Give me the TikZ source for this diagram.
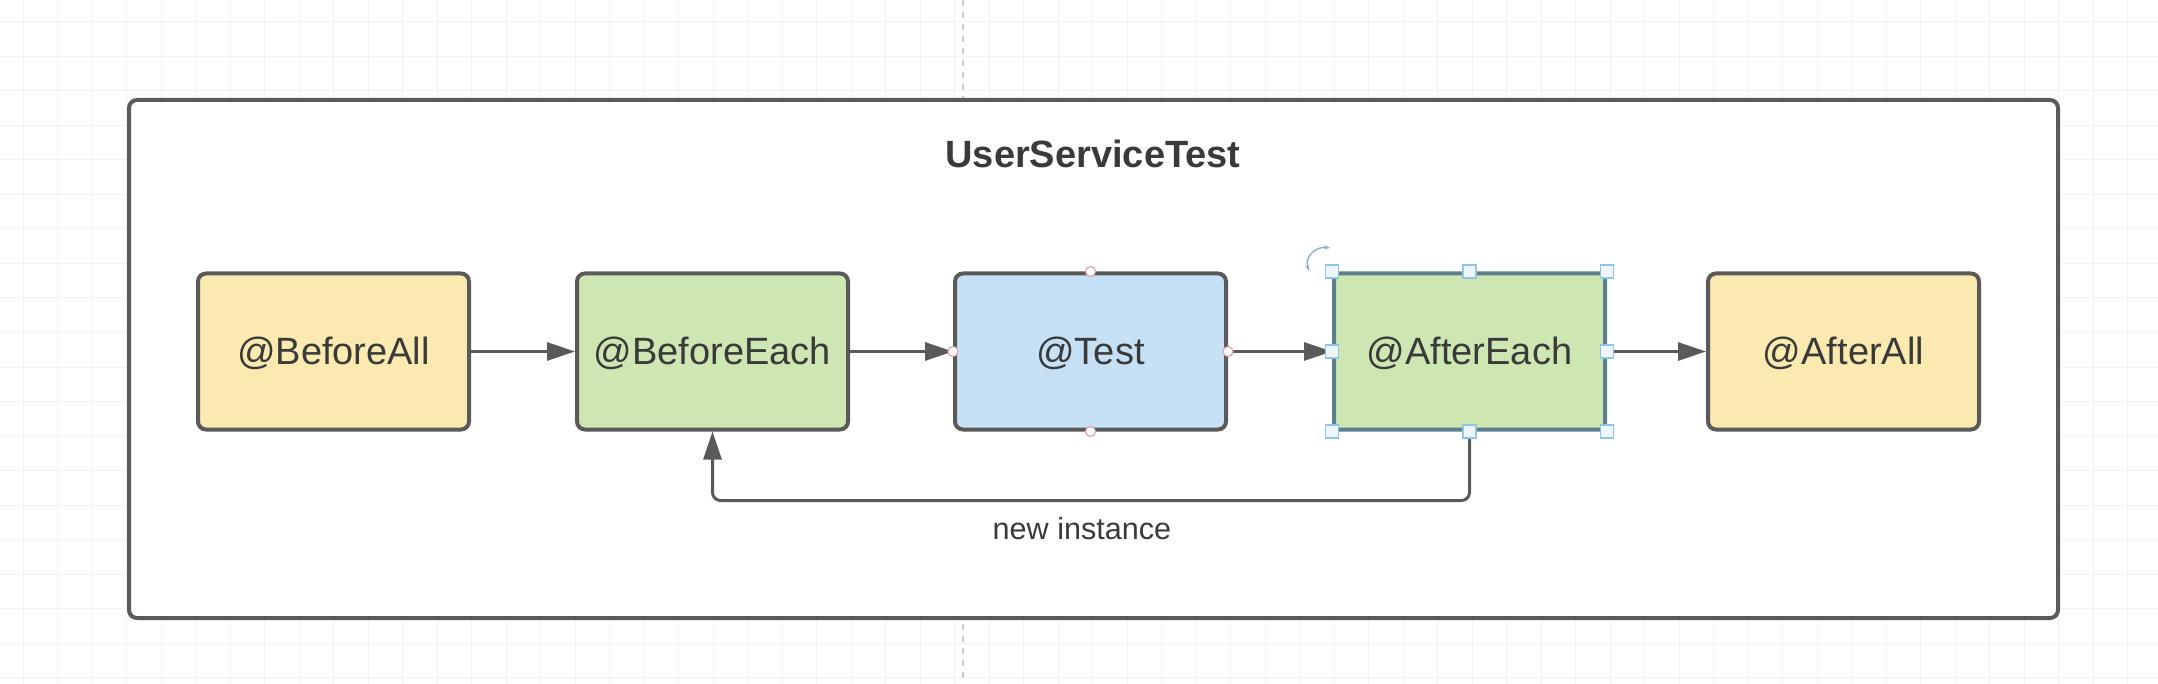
\documentclass[tikz,border=0pt]{standalone}
\usepackage{fontspec}
\setmainfont{Liberation Sans}
\usetikzlibrary{arrows.meta}
\definecolor{boxyellow}{HTML}{FAEAB0}
\definecolor{boxgreen}{HTML}{CDE6B2}
\definecolor{boxblue}{HTML}{C6E1F5}
\definecolor{edgegray}{HTML}{5A5A5A}
\definecolor{textgray}{HTML}{3A3A3A}
\definecolor{gridgray}{HTML}{F2F2F2}
\definecolor{selblue}{HTML}{5B7F8C}
\definecolor{handleblue}{HTML}{8EC5EA}
\definecolor{handlefill}{HTML}{EEF6FC}
\definecolor{connred}{HTML}{E4A3A3}
\tikzset{
  stepbox/.style={draw=edgegray, line width=2pt, rounded corners=4pt,
    minimum width=135.5pt, minimum height=78pt, inner sep=0pt,
    text height=16pt, text depth=3pt,
    text=textgray, font=\fontsize{19}{22}\selectfont},
  framebox/.style={draw=edgegray, line width=2pt, rounded corners=4pt, fill=white,
    minimum width=964.5pt, minimum height=259pt, inner sep=0pt},
  arr/.style={draw=edgegray, line width=1.5pt, -{Triangle[length=14pt,width=9pt]}},
  handle/.style={draw=handleblue, fill=handlefill, line width=0.6pt,
    minimum size=6.5pt, inner sep=0pt},
  connpt/.style={circle, draw=connred, fill=white, line width=0.6pt,
    minimum size=5pt, inner sep=0pt},
  gridline/.style={draw=gridgray, line width=0.5pt},
  pageline/.style={draw=black!20, line width=0.8pt, dash pattern=on 3pt off 3pt}
}
\begin{document}
\begin{tikzpicture}[x=0.5pt,y=-0.5pt]
\useasboundingbox (0,0) rectangle (2158,684);
\fill[white] (0,0) rectangle (2158,684);
% background grid
\foreach \i in {0,...,62} {\draw[gridline] ({23+34.5*\i},0) -- ({23+34.5*\i},684);}
\foreach \j in {0,...,19} {\draw[gridline] (0,{22+34.5*\j}) -- (2158,{22+34.5*\j});}
\draw[pageline] (963,0) -- (963,684);
% frame
\node[framebox] (frame) at (1093.5,359) {};
\node[font=\bfseries\fontsize{19}{22}\selectfont, text=textgray] (title) at (1093,154) {UserServiceTest};
% steps
\node[stepbox, fill=boxyellow] (ba) at (333.5,351.5) {@BeforeAll};
\node[stepbox, fill=boxgreen]  (be) at (712.5,351.5) {@BeforeEach};
\node[stepbox, fill=boxblue]   (te) at (1090.5,351.5) {@Test};
\node[stepbox, fill=boxgreen, draw=selblue, rounded corners=1pt] (ae) at (1469.5,351.5) {@AfterEach};
\node[stepbox, fill=boxyellow] (aa) at (1843.5,351.5) {@AfterAll};
% connectors
\draw[arr] (ba.east) -- (be.west);
\draw[arr] (be.east) -- (te.west);
\draw[arr] (te.east) -- (ae.west);
\draw[arr] (ae.east) -- (aa.west);
\draw[arr, rounded corners=4pt] (ae.south) -- ++(0,69) -| (be.south);
\node[text=textgray, font=\fontsize{15.3}{18}\selectfont] (lbl) at (1082,529) {new instance};
% selection decorations
\foreach \a in {north west,north,north east,east,south east,south,south west,west}
  {\node[handle] at (ae.\a) {};}
\foreach \a in {north,south,east,west}
  {\node[connpt] at (te.\a) {};}
\draw[draw=handleblue!70!gray, line width=0.7pt, {Stealth[length=3pt]}-{Stealth[length=3pt]}]
  (1309,271) .. controls (1304,256) and (1317,246) .. (1330,248);
\end{tikzpicture}
\end{document}
